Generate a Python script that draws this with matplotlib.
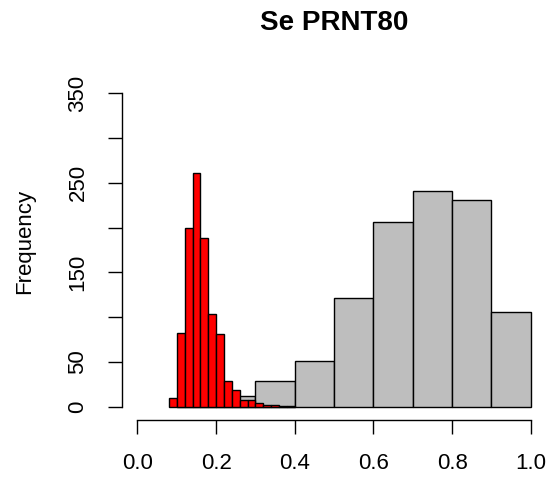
import numpy as np
import matplotlib
matplotlib.use("Agg")
import matplotlib.pyplot as plt

plt.rcParams['font.family'] = ['Liberation Sans', 'DejaVu Sans']

# counts
gray_edges = [0.0, 0.1, 0.2, 0.3, 0.4, 0.5, 0.6, 0.7, 0.8, 0.9, 1.0]
gray_counts = [0, 2, 12, 29, 51, 122, 206, 241, 231, 106]

red_edges = [0.08, 0.10, 0.12, 0.14, 0.16, 0.18, 0.20, 0.22, 0.24,
             0.26, 0.28, 0.30, 0.32, 0.34, 0.36, 0.38, 0.40]
red_counts = [10, 82, 200, 261, 189, 104, 81, 29, 19, 7, 7, 4, 2, 2, 1, 1]

x_ticks = [0.0, 0.2, 0.4, 0.6, 0.8, 1.0]
y_ticks = [0, 50, 100, 150, 200, 250, 300, 350]
y_labels = ['0', '50', '', '150', '', '250', '', '350']


def draw_hist(ax, edges, counts, color):
    edges = np.array(edges)
    counts = np.array(counts)
    keep = counts > 0
    ax.bar(edges[:-1][keep], counts[keep], width=np.diff(edges)[keep],
           align='edge', color=color, edgecolor='black', linewidth=1.0)


fig = plt.figure(figsize=(5.51, 4.79), dpi=100)
ax = fig.add_axes([0.2209, 0.1232, 0.9918 - 0.2209, 0.8701 - 0.1232])

draw_hist(ax, gray_edges, gray_counts, '#BEBEBE')
draw_hist(ax, red_edges, red_counts, '#FF0000')

ax.set_xlim(-0.04, 1.04)
ax.set_ylim(-14.8, 384.8)

for s in ['top', 'right']:
    ax.spines[s].set_visible(False)
ax.spines['bottom'].set_bounds(0, 1)
ax.spines['left'].set_bounds(0, 350)
ax.spines['bottom'].set_linewidth(1.0)
ax.spines['left'].set_linewidth(1.0)

ax.set_xticks(x_ticks)
ax.set_xticklabels([f"{v:.1f}" for v in x_ticks])
ax.set_yticks(y_ticks)
ax.set_yticklabels(y_labels, rotation=90, va='center')
ax.tick_params(axis='both', length=10, width=1.0, labelsize=16, pad=14)

ax.set_ylabel("Frequency", fontsize=16, labelpad=23)
fig.text(0.606, 0.952, "Se PRNT80", fontsize=20, fontweight='bold',
         ha='center', va='center')

fig.savefig("out.png", dpi=100)
